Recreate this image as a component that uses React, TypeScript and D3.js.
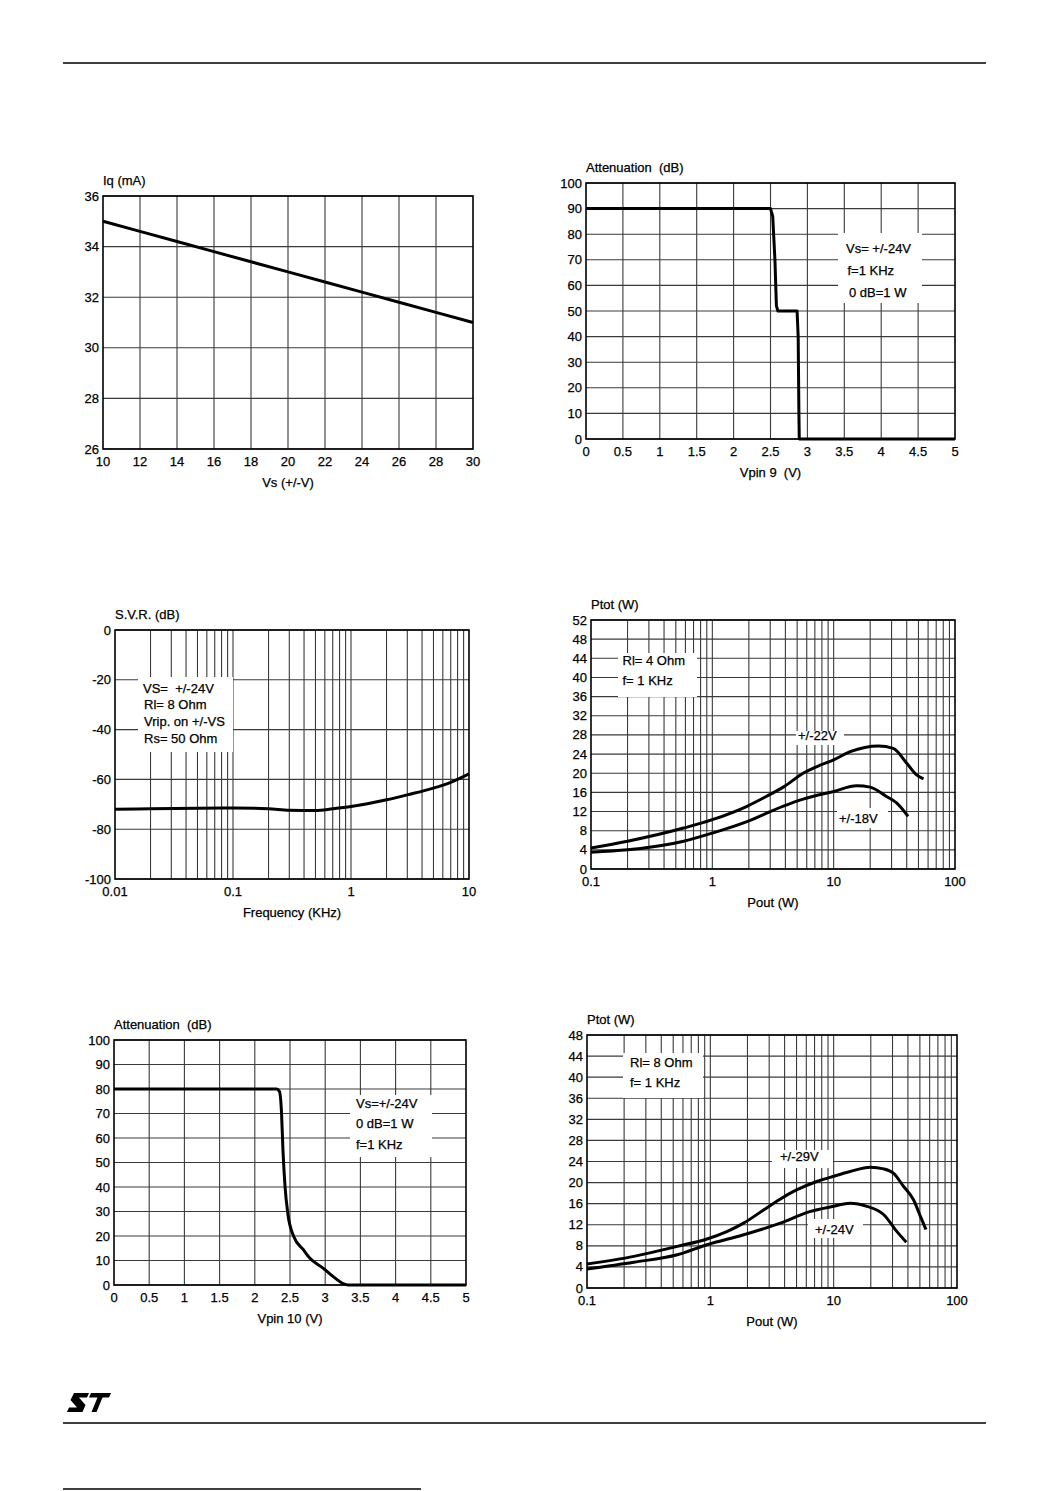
import React from 'react';
import * as d3 from 'd3';

const FONT = '"Liberation Sans", Arial, Helvetica, sans-serif';

// ---------- Chart 1: Iq vs Vs ----------
const iqVs = [10, 12, 14, 16, 18, 20, 22, 24, 26, 28, 30];
const iqMa = [35.0, 34.6, 34.2, 33.8, 33.4, 33.0, 32.6, 32.2, 31.8, 31.4, 31.0];
const iqXTicks = [10, 12, 14, 16, 18, 20, 22, 24, 26, 28, 30];
const iqYTicks = [26, 28, 30, 32, 34, 36];

// ---------- Chart 2: Attenuation vs Vpin 9 ----------
const att9V = [0, 2.5, 2.53, 2.56, 2.58, 2.6, 2.86, 2.875, 2.885, 2.89, 5];
const att9Db = [90, 90, 87, 70, 52, 50, 50, 40, 10, 0, 0];
const attXTicks = [0, 0.5, 1, 1.5, 2, 2.5, 3, 3.5, 4, 4.5, 5];
const attYTicks = [0, 10, 20, 30, 40, 50, 60, 70, 80, 90, 100];

// ---------- Chart 3: SVR vs frequency ----------
const svrFreq = [0.01, 0.02, 0.05, 0.1, 0.2, 0.3, 0.5, 0.7, 1, 2, 3, 5, 7, 10];
const svrDb = [-72, -71.8, -71.6, -71.5, -71.8, -72.4, -72.5, -71.8, -70.9, -68.2, -66.2, -63.5, -61.2, -57.8];
const svrXTicks = [0.01, 0.1, 1, 10];
const svrXLabels = ['0.01', '0.1', '1', '10'];
const svrYTicks = [-100, -80, -60, -40, -20, 0];

// ---------- Chart 4: Ptot vs Pout, Rl = 4 Ohm ----------
const p22x = [0.1, 0.2, 0.58, 1, 1.93, 2.8, 3.9, 5.6, 7.3, 10, 13.7, 23.4, 31, 40, 48, 55];
const p22y = [4.4, 5.8, 8.55, 10.3, 13.1, 15.2, 17.2, 20.0, 21.4, 22.8, 24.5, 25.7, 25.2, 22.1, 19.7, 18.8];
const p18x = [0.1, 0.2, 0.58, 1, 1.93, 3.9, 5.6, 10, 15.5, 20, 27, 33, 41];
const p18y = [3.5, 4.0, 5.8, 7.5, 9.9, 13.2, 14.6, 16.2, 17.4, 17.1, 15.2, 13.8, 11.0];
const p4YTicks = [0, 4, 8, 12, 16, 20, 24, 28, 32, 36, 40, 44, 48, 52];

// ---------- Chart 5: Attenuation vs Vpin 10 ----------
const att10V = [0, 2.31, 2.35, 2.38, 2.4, 2.43, 2.47, 2.55, 2.69, 2.78, 2.97, 3.11, 3.26, 3.32, 5];
const att10Db = [80, 80, 79, 70, 55, 40, 29, 20, 14.4, 11, 6.9, 3.5, 0.5, 0, 0];

// ---------- Chart 6: Ptot vs Pout, Rl = 8 Ohm ----------
const p29x = [0.1, 0.24, 0.54, 0.94, 1.36, 1.86, 2.7, 3.7, 5.0, 7.3, 10, 13.6, 19.8, 25.5, 30.5, 36.8, 44.5, 50.5, 56];
const p29y = [4.55, 6.0, 7.9, 9.3, 10.7, 12.3, 14.8, 16.9, 18.6, 20.2, 21.2, 22.1, 22.9, 22.6, 21.8, 19.3, 16.7, 13.6, 11.1];
const p24x = [0.1, 0.24, 0.54, 0.94, 1.86, 3.7, 6.4, 10, 13.6, 18.6, 25.5, 32.6, 38.8];
const p24y = [3.6, 4.9, 6.3, 8.2, 10.1, 12.3, 14.5, 15.5, 16.1, 15.5, 13.9, 10.7, 8.7];
const p8YTicks = [0, 4, 8, 12, 16, 20, 24, 28, 32, 36, 40, 44, 48];

const powXTicks = [0.1, 1, 10, 100];
const powXLabels = ['0.1', '1', '10', '100'];

function logGrid(lo: number, hi: number): number[] {
  const out: number[] = [];
  for (let d = lo; d < hi * 0.999; d *= 10) {
    for (let k = 1; k <= 9; k++) out.push(d * k);
  }
  out.push(hi);
  return out;
}

type Series = { x: number[]; y: number[]; curve?: d3.CurveFactory };
type Box = { x: number; y: number; w: number; h: number };
type Txt = { x: number; y: number; t: string };

type ChartProps = {
  left: number; top: number; right: number; bottom: number;
  xLog?: boolean;
  xDomain: [number, number]; yDomain: [number, number];
  xTicks: number[]; xLabels?: string[];
  xGrid: number[];
  yTicks: number[];
  title: string; xTitle: string;
  series: Series[];
  boxes: Box[];
  texts: Txt[];
};

function Chart(p: ChartProps) {
  const x = p.xLog
    ? d3.scaleLog().domain(p.xDomain).range([p.left, p.right])
    : d3.scaleLinear().domain(p.xDomain).range([p.left, p.right]);
  const y = d3.scaleLinear().domain(p.yDomain).range([p.bottom, p.top]);
  const fs = 13;
  return (
    <g fontFamily={FONT} fontSize={fs} fill="#000">
      {p.xGrid.map((v, i) => (
        <line key={'gx' + i} x1={x(v)} x2={x(v)} y1={p.top} y2={p.bottom} stroke="#3a3a3a" strokeWidth={1.1} />
      ))}
      {p.yTicks.map((v, i) => (
        <line key={'gy' + i} x1={p.left} x2={p.right} y1={y(v)} y2={y(v)} stroke="#3a3a3a" strokeWidth={1.1} />
      ))}
      {p.boxes.map((b, i) => (
        <rect key={'b' + i} x={b.x} y={b.y} width={b.w} height={b.h} fill="#fff" />
      ))}
      {p.series.map((s, i) => {
        const pts = s.x.map((xv, j) => [x(xv), y(s.y[j])] as [number, number]);
        const line = d3.line().curve(s.curve || d3.curveMonotoneX);
        return <path key={'s' + i} d={line(pts) || ''} fill="none" stroke="#000" strokeWidth={3} strokeLinejoin="round" />;
      })}
      <rect x={p.left} y={p.top} width={p.right - p.left} height={p.bottom - p.top} fill="none" stroke="#000" strokeWidth={1.6} />
      <g stroke="#000" strokeWidth={0.25}>
        {p.yTicks.map((v, i) => (
          <text key={'yl' + i} x={p.left - 4} y={y(v) + 4.5} textAnchor="end">{String(v)}</text>
        ))}
        {p.xTicks.map((v, i) => (
          <text key={'xl' + i} x={x(v)} y={p.bottom + 17} textAnchor="middle">{p.xLabels ? p.xLabels[i] : String(v)}</text>
        ))}
        <text x={p.left} y={p.top - 11} textAnchor="start" style={{ whiteSpace: 'pre' }}>{p.title}</text>
        <text x={(p.left + p.right) / 2} y={p.bottom + 38} textAnchor="middle" style={{ whiteSpace: 'pre' }}>{p.xTitle}</text>
        {p.texts.map((t, i) => (
          <text key={'t' + i} x={t.x} y={t.y} style={{ whiteSpace: 'pre' }}>{t.t}</text>
        ))}
      </g>
    </g>
  );
}

export default function App() {
  return (
    <svg width={1049} height={1491} style={{ position: 'absolute', left: 0, top: 0, background: '#fff' }}>
      <rect x={0} y={0} width={1049} height={1491} fill="#fff" />
      <line x1={63} x2={986} y1={63} y2={63} stroke="#000" strokeWidth={1.5} />
      <line x1={63} x2={986} y1={1423} y2={1423} stroke="#000" strokeWidth={1.5} />
      <line x1={63} x2={421} y1={1489} y2={1489} stroke="#000" strokeWidth={1.5} />
      {/* ST logo */}
      <g transform="translate(67,1393)" fill="#000">
        <path d="M7,0 L22,0 L20,4.5 L12,4.5 L18.5,12 L15.5,19 L0,19 L2,14.5 L10,14.5 L3.5,7 Z" />
        <path d="M24,0 L44,0 L42,4.5 L35.5,4.5 L29.5,19 L24.5,19 L30.5,4.5 L22,4.5 Z" />
      </g>

      <Chart
        left={103} top={196} right={473} bottom={449}
        xDomain={[10, 30]} yDomain={[26, 36]}
        xTicks={iqXTicks} xGrid={iqXTicks.slice(1, -1)} yTicks={iqYTicks}
        title="Iq (mA)" xTitle="Vs (+/-V)"
        series={[{ x: iqVs, y: iqMa, curve: d3.curveLinear }]}
        boxes={[]} texts={[]}
      />

      <Chart
        left={586} top={183} right={955} bottom={439}
        xDomain={[0, 5]} yDomain={[0, 100]}
        xTicks={attXTicks} xGrid={attXTicks.slice(1, -1)} yTicks={attYTicks}
        title="Attenuation  (dB)" xTitle="Vpin 9  (V)"
        series={[{ x: att9V, y: att9Db, curve: d3.curveLinear }]}
        boxes={[{ x: 838, y: 233, w: 84, h: 70 }]}
        texts={[
          { x: 846, y: 253, t: 'Vs= +/-24V' },
          { x: 847.5, y: 275, t: 'f=1 KHz' },
          { x: 849, y: 297, t: '0 dB=1 W' },
        ]}
      />

      <Chart
        left={115} top={630} right={469} bottom={879}
        xLog xDomain={[0.01, 10]} yDomain={[-100, 0]}
        xTicks={svrXTicks} xLabels={svrXLabels} xGrid={logGrid(0.01, 10).slice(1, -1)} yTicks={svrYTicks}
        title="S.V.R. (dB)" xTitle="Frequency (KHz)"
        series={[{ x: svrFreq, y: svrDb }]}
        boxes={[{ x: 138, y: 677, w: 95, h: 75 }]}
        texts={[
          { x: 143, y: 693, t: 'VS=  +/-24V' },
          { x: 144, y: 709, t: 'Rl= 8 Ohm' },
          { x: 144, y: 726, t: 'Vrip. on +/-VS' },
          { x: 144, y: 743, t: 'Rs= 50 Ohm' },
        ]}
      />

      <Chart
        left={591} top={620} right={955} bottom={869}
        xLog xDomain={[0.1, 100]} yDomain={[0, 52]}
        xTicks={powXTicks} xLabels={powXLabels} xGrid={logGrid(0.1, 100).slice(1, -1)} yTicks={p4YTicks}
        title="Ptot (W)" xTitle="Pout (W)"
        series={[{ x: p22x, y: p22y }, { x: p18x, y: p18y }]}
        boxes={[
          { x: 618, y: 653, w: 79, h: 44 },
          { x: 796, y: 731, w: 48, h: 14 },
          { x: 837, y: 808, w: 51, h: 20 },
        ]}
        texts={[
          { x: 622.5, y: 665, t: 'Rl= 4 Ohm' },
          { x: 622.5, y: 685, t: 'f= 1 KHz' },
          { x: 798, y: 740, t: '+/-22V' },
          { x: 839, y: 823, t: '+/-18V' },
        ]}
      />

      <Chart
        left={114} top={1040} right={466} bottom={1285}
        xDomain={[0, 5]} yDomain={[0, 100]}
        xTicks={attXTicks} xGrid={attXTicks.slice(1, -1)} yTicks={attYTicks}
        title="Attenuation  (dB)" xTitle="Vpin 10 (V)"
        series={[{ x: att10V, y: att10Db }]}
        boxes={[{ x: 350, y: 1095, w: 82, h: 62 }]}
        texts={[
          { x: 356, y: 1108, t: 'Vs=+/-24V' },
          { x: 356, y: 1128, t: '0 dB=1 W' },
          { x: 356, y: 1149, t: 'f=1 KHz' },
        ]}
      />

      <Chart
        left={587} top={1035} right={957} bottom={1288}
        xLog xDomain={[0.1, 100]} yDomain={[0, 48]}
        xTicks={powXTicks} xLabels={powXLabels} xGrid={logGrid(0.1, 100).slice(1, -1)} yTicks={p8YTicks}
        title="Ptot (W)" xTitle="Pout (W)"
        series={[{ x: p29x, y: p29y }, { x: p24x, y: p24y }]}
        boxes={[
          { x: 623, y: 1053, w: 80, h: 45 },
          { x: 772, y: 1150, w: 61, h: 18 },
          { x: 808, y: 1219, w: 55, h: 19 },
        ]}
        texts={[
          { x: 630, y: 1067, t: 'Rl= 8 Ohm' },
          { x: 630, y: 1087, t: 'f= 1 KHz' },
          { x: 780, y: 1161, t: '+/-29V' },
          { x: 815, y: 1234, t: '+/-24V' },
        ]}
      />
    </svg>
  );
}
